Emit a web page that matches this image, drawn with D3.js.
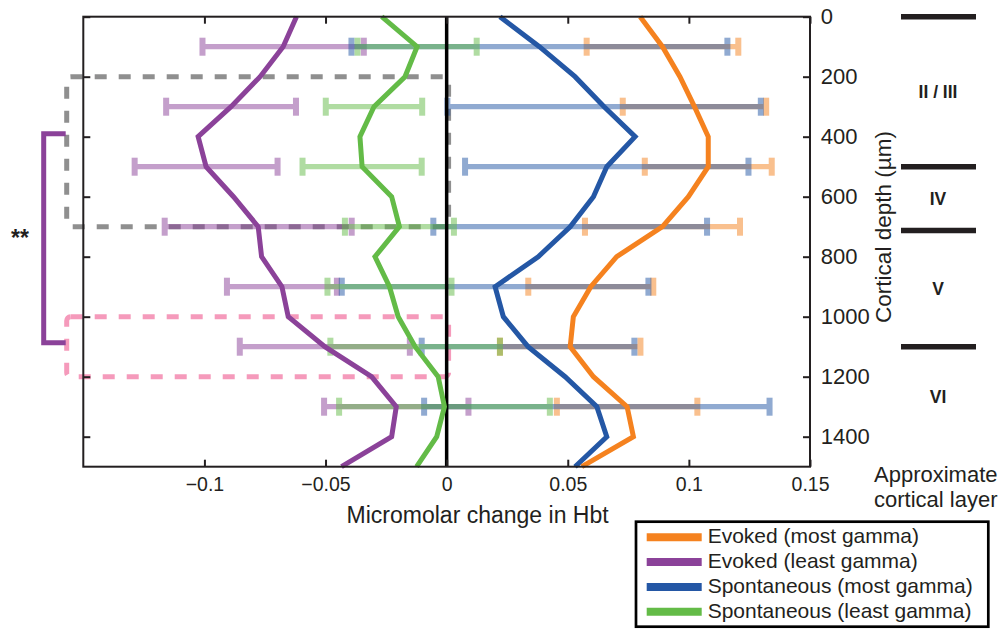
<!DOCTYPE html>
<html>
<head>
<meta charset="utf-8">
<script src="https://cdn.jsdelivr.net/npm/d3@7"></script>
<style>
  body { margin: 0; background: #fff; }
  svg { display: block; font-family: 'Liberation Sans', Arial, Helvetica, sans-serif; }
</style>
</head>
<body>
<div id="chart"></div>
<script>
// depth profile of mean Hbt change, sampled every 100 um
const depths = [0, 100, 200, 300, 400, 500, 600, 700, 800, 900, 1000, 1100, 1200, 1300, 1400, 1500]
const errDepths = [100, 300, 500, 700, 900, 1100, 1300]

const seriesNames = ['Evoked (most gamma)', 'Evoked (least gamma)', 'Spontaneous (most gamma)', 'Spontaneous (least gamma)']
const seriesColors = ['#f5821f', '#8b4299', '#2457a5', '#63bb47']

const evokedMost = [0.0799, 0.0891, 0.0963, 0.1023, 0.108, 0.108, 0.0998, 0.0891, 0.0702, 0.0595, 0.0523, 0.051, 0.0606, 0.0745, 0.0771, 0.0558]
const evokedLeast = [-0.062, -0.0675, -0.077, -0.089, -0.1026, -0.0993, -0.088, -0.0778, -0.0764, -0.068, -0.0654, -0.0503, -0.031, -0.0208, -0.0227, -0.0434]
const spontMost = [0.022, 0.0383, 0.053, 0.065, 0.0778, 0.0661, 0.0606, 0.051, 0.0378, 0.02, 0.0234, 0.0336, 0.0489, 0.062, 0.0661, 0.053]
const spontLeast = [-0.0268, -0.0122, -0.0172, -0.03, -0.0358, -0.0349, -0.0227, -0.0195, -0.0296, -0.0236, -0.02, -0.013, -0.0035, -0.0009, -0.0041, -0.0124]

// half widths of the error bars at errDepths
const evokedMostErr = [0.0313, 0.0296, 0.0262, 0.032, 0.0258, 0.029, 0.029]
const evokedLeastErr = [0.0333, 0.0268, 0.0295, 0.0386, 0.0227, 0.0351, 0.0298]
const spontMostErr = [0.0776, 0.0647, 0.0585, 0.0565, 0.0633, 0.0439, 0.0713]
const spontLeastErr = [0.0246, 0.0199, 0.0246, 0.0225, 0.0256, 0.035, 0.0435]

const xTicks = [-0.1, -0.05, 0, 0.05, 0.1, 0.15]
const yTicks = [0, 200, 400, 600, 800, 1000, 1200, 1400]

const layerNames = ['II / III', 'IV', 'V', 'VI']
const layerBounds = [0, 500, 713, 1100]
const layerLabelDepths = [250, 606, 906, 1265]

// comparison boxes and significance bracket (depths)
const grayBox = [200, 700]
const pinkBox = [1000, 1200]
const sigBracket = [390, 1087]

const width = 1006
const height = 630
const ink = '#231f20'

const x = d3.scaleLinear().domain([-0.15, 0.15]).range([83.3, 810])
const y = d3.scaleLinear().domain([0, 1500]).range([16.7, 466.7])

const series = seriesNames.map((name, i) => ({
  name,
  color: seriesColors[i],
  values: [evokedMost, evokedLeast, spontMost, spontLeast][i],
  err: [evokedMostErr, evokedLeastErr, spontMostErr, spontLeastErr][i]
}))

const svg = d3.select('#chart')
  .append('svg')
  .attr('width', width)
  .attr('height', height)

// dashed comparison boxes
const boxes = [[grayBox, '#8f8f8f'], [pinkBox, '#f59abb']]
svg.append('g')
  .selectAll('rect')
  .data(boxes)
  .enter()
  .append('rect')
  .attr('x', 66.7)
  .attr('y', d => y(d[0][0]))
  .attr('width', x(0.0008) - 66.7)
  .attr('height', d => y(d[0][1]) - y(d[0][0]))
  .attr('rx', 4)
  .style('fill', 'none')
  .style('stroke', d => d[1])
  .style('stroke-width', 5)
  .style('stroke-dasharray', '12,12')

// error bars, each series in a half transparent group
series.forEach(s => {
  const g = svg.append('g').style('opacity', 0.5)
  const rows = errDepths.map((depth, j) => {
    const m = s.values[depths.indexOf(depth)]
    return {depth, lo: m - s.err[j], hi: m + s.err[j]}
  })
  g.selectAll('line')
    .data(rows)
    .enter()
    .append('line')
    .attr('x1', d => x(d.lo))
    .attr('x2', d => x(d.hi))
    .attr('y1', d => y(d.depth))
    .attr('y2', d => y(d.depth))
    .style('stroke', s.color)
    .style('stroke-width', 5.3)
  g.selectAll('rect')
    .data(rows.flatMap(d => [{depth: d.depth, v: d.lo}, {depth: d.depth, v: d.hi}]))
    .enter()
    .append('rect')
    .attr('x', d => x(d.v) - 3)
    .attr('y', d => y(d.depth) - 9)
    .attr('width', 6)
    .attr('height', 18)
    .style('fill', s.color)
})

// zero line
svg.append('line')
  .attr('x1', x(0))
  .attr('x2', x(0))
  .attr('y1', y(0))
  .attr('y2', y(1500))
  .style('stroke', '#000')
  .style('stroke-width', 3.5)

// mean profiles
const line = d3.line()
  .x(d => x(d))
  .y((d, i) => y(depths[i]))

svg.append('g')
  .selectAll('path')
  .data(series.slice().reverse())
  .enter()
  .append('path')
  .attr('d', d => line(d.values))
  .style('fill', 'none')
  .style('stroke', d => d.color)
  .style('stroke-width', 5)
  .style('stroke-linejoin', 'miter')

// axes: ticks pointing inward on all four sides
const fmt = d3.format('')
svg.append('g')
  .attr('transform', `translate(0,${y(1500)})`)
  .call(d3.axisBottom(x).tickValues(xTicks).tickSizeInner(-7).tickSizeOuter(0).tickPadding(10.5).tickFormat(fmt))
  .call(g => g.selectAll('text').style('font-size', '19.5px').style('fill', ink))
svg.append('g')
  .attr('transform', `translate(0,${y(0)})`)
  .call(d3.axisTop(x).tickValues(xTicks).tickSizeInner(-7).tickSizeOuter(0).tickFormat(''))
svg.append('g')
  .attr('transform', `translate(${x(-0.15)},0)`)
  .call(d3.axisLeft(y).tickValues(yTicks).tickSizeInner(-7).tickSizeOuter(0).tickFormat(''))
svg.append('g')
  .attr('transform', `translate(${x(0.15)},0)`)
  .call(d3.axisRight(y).tickValues(yTicks).tickSizeInner(-7).tickSizeOuter(0).tickPadding(10.7).tickFormat(d3.format('d')))
  .call(g => g.selectAll('text').style('font-size', '22px').style('fill', ink))

svg.selectAll('.domain').remove()
svg.selectAll('.tick line').style('stroke', ink).style('stroke-width', 2)

svg.append('rect')
  .attr('x', x(-0.15))
  .attr('y', y(0))
  .attr('width', x(0.15) - x(-0.15))
  .attr('height', y(1500) - y(0))
  .style('fill', 'none')
  .style('stroke', ink)
  .style('stroke-width', 2)

// axis titles
svg.append('text')
  .attr('x', 477.6)
  .attr('y', 523.3)
  .attr('text-anchor', 'middle')
  .style('font-size', '23px')
  .style('fill', ink)
  .text('Micromolar change in Hbt')

svg.append('text')
  .attr('transform', 'translate(891,227)rotate(-90)')
  .attr('text-anchor', 'middle')
  .style('font-size', '22.5px')
  .style('fill', ink)
  .text('Cortical depth (µm)')

// significance bracket on the left
svg.append('path')
  .attr('d', `M65.7,${y(sigBracket[0])}H43.7V${y(sigBracket[1])}H65.7`)
  .style('fill', 'none')
  .style('stroke', seriesColors[1])
  .style('stroke-width', 5)

svg.append('text')
  .attr('x', 11)
  .attr('y', 246)
  .style('font-size', '23px')
  .style('font-weight', 'bold')
  .style('fill', ink)
  .text('**')

// approximate cortical layers
svg.append('g')
  .selectAll('line')
  .data(layerBounds)
  .enter()
  .append('line')
  .attr('x1', 901)
  .attr('x2', 976)
  .attr('y1', d => y(d))
  .attr('y2', d => y(d))
  .style('stroke', ink)
  .style('stroke-width', 5.5)

svg.append('g')
  .selectAll('text')
  .data(layerNames)
  .enter()
  .append('text')
  .attr('x', 938)
  .attr('y', (d, i) => y(layerLabelDepths[i]))
  .attr('dy', '0.36em')
  .attr('text-anchor', 'middle')
  .style('font-size', '17.5px')
  .style('font-weight', 'bold')
  .style('fill', ink)
  .text(d => d)

svg.append('text')
  .attr('x', 874)
  .attr('y', 481.5)
  .style('font-size', '22px')
  .style('fill', ink)
  .text('Approximate')
svg.append('text')
  .attr('x', 874)
  .attr('y', 506.5)
  .style('font-size', '22px')
  .style('fill', ink)
  .text('cortical layer')

// legend
const legend = svg.append('g')
legend.append('rect')
  .attr('x', 636)
  .attr('y', 521.7)
  .attr('width', 352.3)
  .attr('height', 105)
  .style('fill', '#fff')
  .style('stroke', '#000')
  .style('stroke-width', 2.7)

const item = legend.selectAll('g.item')
  .data(series)
  .enter()
  .append('g')
  .attr('class', 'item')
  .attr('transform', (d, i) => `translate(0,${543.3 + i * 24.8})`)
item.append('line')
  .attr('x1', 646.7)
  .attr('x2', 701.7)
  .attr('y1', -6)
  .attr('y2', -6)
  .style('stroke', d => d.color)
  .style('stroke-width', 8)
item.append('text')
  .attr('x', 707.7)
  .style('font-size', '21px')
  .style('fill', ink)
  .text(d => d.name)
</script>
</body>
</html>
